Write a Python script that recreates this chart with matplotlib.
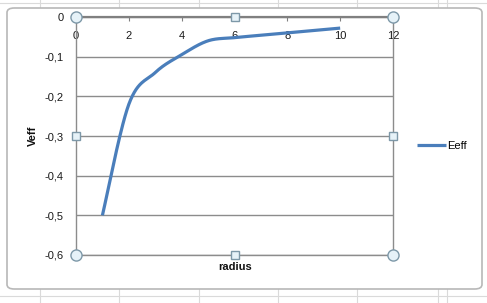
import numpy as np
import matplotlib
matplotlib.use('Agg')
import matplotlib.pyplot as plt
from matplotlib.patches import FancyBboxPatch
from matplotlib.lines import Line2D
from matplotlib.ticker import FuncFormatter

# ---- data ----
radius = [1, 2, 3, 4, 5, 6, 7, 8, 9, 10]
veff = [-0.5, -0.22, -0.14, -0.095, -0.06, -0.052, -0.046, -0.04, -0.034, -0.028]
series_name = 'Eeff'
x_label = 'radius'
y_label = 'Veff'
x_ticks = [0, 2, 4, 6, 8, 10, 12]
y_ticks = [0, -0.1, -0.2, -0.3, -0.4, -0.5, -0.6]

W, H = 487, 303
plt.rcParams['font.family'] = ['Liberation Sans', 'DejaVu Sans']

def fx(px):
    return px / W

def fy(py):
    return 1 - py / H

def excel_smooth(x, y, n=30):
    """Bezier smoothing like Excel's 'smoothed line' rendering."""
    pts = np.column_stack([x, y]).astype(float)
    P = np.vstack([pts[0], pts, pts[-1]])
    out = []
    t = np.linspace(0, 1, n)[:, None]
    for i in range(1, len(P) - 2):
        p0, p1, p2, p3 = P[i - 1], P[i], P[i + 1], P[i + 2]
        c1 = p1 + (p2 - p0) / 6
        c2 = p2 - (p3 - p1) / 6
        b = (1 - t) ** 3 * p1 + 3 * (1 - t) ** 2 * t * c1 + 3 * (1 - t) * t ** 2 * c2 + t ** 3 * p2
        out.append(b if i == 1 else b[1:])
    return np.vstack(out)

fig = plt.figure(figsize=(W / 100, H / 100), dpi=100)
fig.patch.set_facecolor('white')

# spreadsheet grid behind the chart
grid_c = '#dadada'
for px in [40, 119, 199, 278, 357, 438, 447]:
    fig.add_artist(Line2D([fx(px), fx(px)], [0, 1], color=grid_c, lw=0.8, zorder=0))
for py in [3, 296]:
    fig.add_artist(Line2D([0, 1], [fy(py), fy(py)], color=grid_c, lw=0.8, zorder=0))

# chart frame
frame = FancyBboxPatch((fx(7), fy(289)), fx(482) - fx(7), fy(8) - fy(289),
                       boxstyle='round,pad=0,rounding_size=0.015',
                       transform=fig.transFigure, facecolor='white',
                       edgecolor='#b8b8b8', lw=1.2, zorder=1)
fig.add_artist(frame)

ax = fig.add_axes([fx(76), fy(255), fx(393) - fx(76), fy(17) - fy(255)])
ax.set_zorder(2)
ax.patch.set_alpha(0)

sm = excel_smooth(radius, veff)
ax.plot(sm[:, 0], sm[:, 1], color='#4a7ebb', lw=2.3, solid_capstyle='butt',
        label=series_name, zorder=3)

ax.set_xlim(0, 12)
ax.set_ylim(-0.6, 0)
ax.set_xticks(x_ticks)
ax.set_yticks(y_ticks)
ax.yaxis.set_major_formatter(FuncFormatter(lambda v, p: ('%g' % round(v, 1)).replace('.', ',')))

ax.grid(axis='y', color='#8c8c8c', lw=1.0)
ax.set_axisbelow(True)

for s in ['left', 'right', 'bottom']:
    ax.spines[s].set_color('#8c8c8c')
    ax.spines[s].set_linewidth(1.0)
ax.spines['top'].set_color('#808080')
ax.spines['top'].set_linewidth(1.6)

ax.tick_params(axis='x', top=True, bottom=False, labeltop=True, labelbottom=False,
               direction='in', length=3, color='#808080', pad=-17, labelsize=8,
               labelcolor='#1a1a1a')
ax.tick_params(axis='y', length=0, pad=9, labelsize=8, labelcolor='#1a1a1a')

fig.text(fx(33), fy(136), y_label, rotation=90, ha='center', va='center',
         fontsize=8, fontweight='bold', color='#111111')
fig.text(fx(235), fy(267), x_label, ha='center', va='center',
         fontsize=8, fontweight='bold', color='#111111')

ax.legend(loc='center left', bbox_to_anchor=(fx(417), fy(146)),
          bbox_transform=fig.transFigure, frameon=False, fontsize=8,
          handlelength=2.6, handletextpad=0.1, borderaxespad=0, borderpad=0)

# selection handles of the plot area
hc_face = '#e6f2f8'
hc_edge = '#7d98a8'
for (u, v) in [(0, 1), (1, 1), (0, 0), (1, 0)]:
    ax.plot(u, v, marker='o', ms=8, mfc=hc_face, mec=hc_edge, mew=1.0,
            transform=ax.transAxes, clip_on=False, zorder=5)
for (u, v) in [(0.5, 1), (0, 0.5), (1, 0.5), (0.5, 0)]:
    ax.plot(u, v, marker='s', ms=6, mfc=hc_face, mec=hc_edge, mew=1.0,
            transform=ax.transAxes, clip_on=False, zorder=5)

fig.savefig('out.png', dpi=100)
